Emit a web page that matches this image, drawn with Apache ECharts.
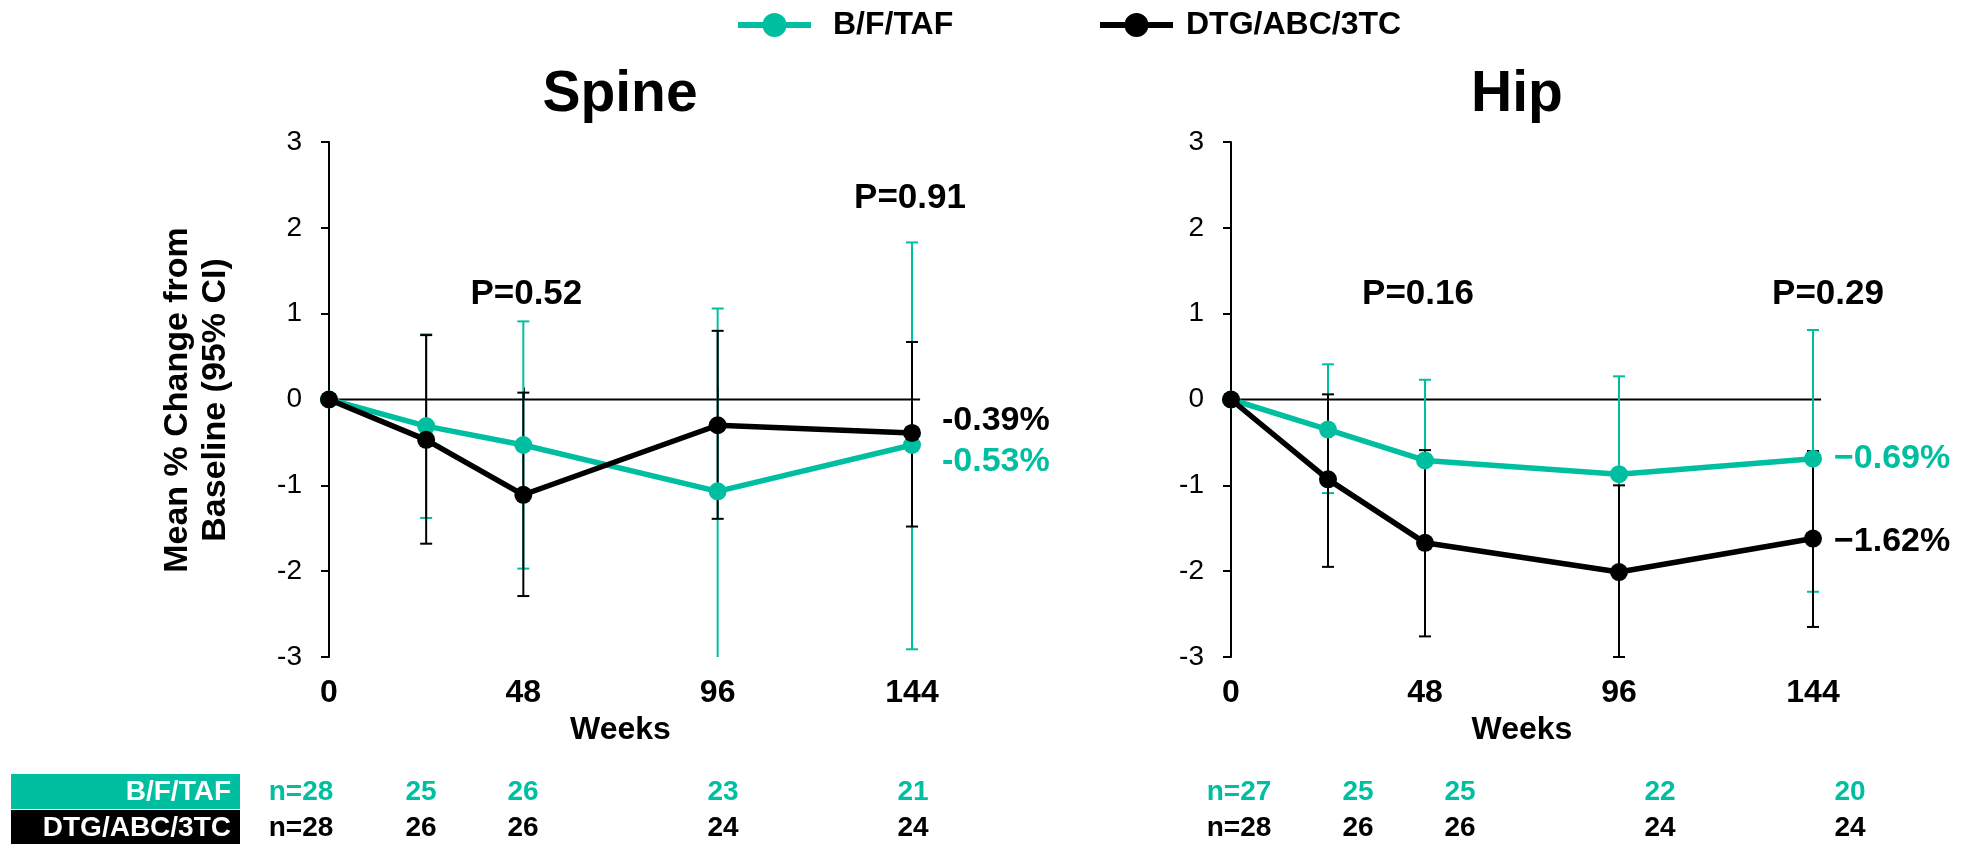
<!DOCTYPE html>
<html>
<head>
<meta charset="utf-8">
<script src="https://cdn.jsdelivr.net/npm/echarts@6/dist/echarts.min.js"></script>
<style>
  html, body { margin: 0; padding: 0; background: #fff; }
  #chart { width: 1967px; height: 844px; }
</style>
</head>
<body>
<div id="chart"></div>
<script>
// ---- data ---------------------------------------------------------------
const weeks = [0, 24, 48, 96, 144];
const weekTicks = [0, 48, 96, 144];
const yTicks = [-3, -2, -1, 0, 1, 2, 3];
const groups = ['B/F/TAF', 'DTG/ABC/3TC'];
const panelTitles = ['Spine', 'Hip'];

// Spine BMD: mean % change from baseline with 95% CI
const spineBFTAF     = [0, -0.31, -0.53, -1.07, -0.53];
const spineBFTAFLow  = [0, -1.38, -1.97, -3.20, -2.91];
const spineBFTAFHigh = [0,  0.76,  0.91,  1.06,  1.83];
const spineDTG       = [0, -0.47, -1.11, -0.30, -0.39];
const spineDTGLow    = [0, -1.68, -2.29, -1.39, -1.48];
const spineDTGHigh   = [0,  0.75,  0.08,  0.80,  0.67];

// Hip BMD: mean % change from baseline with 95% CI
const hipBFTAF     = [0, -0.35, -0.71, -0.87, -0.69];
const hipBFTAFLow  = [0, -1.09, -1.65, -2.01, -2.24];
const hipBFTAFHigh = [0,  0.41,  0.23,  0.27,  0.81];
const hipDTG       = [0, -0.93, -1.67, -2.01, -1.62];
const hipDTGLow    = [0, -1.95, -2.76, -3.00, -2.65];
const hipDTGHigh   = [0,  0.06, -0.59, -1.00, -0.60];

// P-values for the between-group comparisons
const spinePValues = ['P=0.52', 'P=0.91'];
const hipPValues   = ['P=0.16', 'P=0.29'];

// Participants with data at each visit
const spineNBFTAF = ['n=28', '25', '26', '23', '21'];
const spineNDTG   = ['n=28', '26', '26', '24', '24'];
const hipNBFTAF   = ['n=27', '25', '25', '22', '20'];
const hipNDTG     = ['n=28', '26', '26', '24', '24'];

// ---- styling / layout ---------------------------------------------------
const TEAL = '#00BFA0';
const BLACK = '#000000';
const FONT = '"Liberation Sans", Arial, Helvetica, sans-serif';
const Y_MIN = -3, Y_MAX = 3;

const panels = [
  {
    grid: { left: 329, top: 142, width: 583, height: 515 },
    mean: [spineBFTAF, spineDTG],
    low: [spineBFTAFLow, spineDTGLow],
    high: [spineBFTAFHigh, spineDTGHigh],
    fmt: v => v.toFixed(2) + '%',
    endLabel: [{ distance: 21, offset: [0, 17] }, { distance: 21, offset: [0, -12] }],
    pValues: spinePValues,
    pAnchor: [{ w: 48, y: 1.22, dx: 3 }, { w: 144, y: 2.34, dx: -2 }],
    nRows: [spineNBFTAF, spineNDTG],
    nCols: [301, 421, 523, 723, 913],
    titleX: 620
  },
  {
    grid: { left: 1231, top: 142, width: 582, height: 515 },
    mean: [hipBFTAF, hipDTG],
    low: [hipBFTAFLow, hipDTGLow],
    high: [hipBFTAFHigh, hipDTGHigh],
    fmt: v => v.toFixed(2).replace('-', '\u2212') + '%',
    endLabel: [{ distance: 12, offset: [0, 0] }, { distance: 12, offset: [0, 3] }],
    pValues: hipPValues,
    pAnchor: [{ w: 48, y: 1.22, dx: -7 }, { w: 144, y: 1.22, dx: 15 }],
    nRows: [hipNBFTAF, hipNDTG],
    nCols: [1239, 1358, 1460, 1660, 1850],
    titleX: 1517
  }
];
const colors = [TEAL, BLACK];

function lineSeries(p, g) {
  const P = panels[p];
  const vals = P.mean[g];
  return {
    type: 'line',
    name: groups[g],
    xAxisIndex: p,
    yAxisIndex: p,
    z: 4 + g,
    symbol: 'circle',
    symbolSize: 18,
    showAllSymbol: true,
    color: colors[g],
    itemStyle: { color: colors[g] },
    lineStyle: { color: colors[g], width: 5.5 },
    emphasis: { disabled: true },
    animation: false,
    data: weeks.map((w, i) => {
      const item = { value: [w, vals[i]] };
      if (i === weeks.length - 1) {
        item.label = {
          show: true,
          position: 'right',
          distance: P.endLabel[g].distance,
          offset: P.endLabel[g].offset,
          formatter: prm => P.fmt(prm.value[1]),
          color: colors[g],
          fontFamily: FONT,
          fontWeight: 'bold',
          fontSize: 34
        };
      }
      return item;
    })
  };
}

function errorBarSeries(p, g) {
  const P = panels[p];
  const color = colors[g];
  return {
    type: 'custom',
    name: groups[g],
    xAxisIndex: p,
    yAxisIndex: p,
    z: 2 + g * 0.5,
    silent: true,
    animation: false,
    data: weeks.map((w, i) => [w, P.low[g][i], P.high[g][i]]).slice(1),
    renderItem(params, api) {
      const x = api.value(0);
      const lo = api.value(1);
      const hi = api.value(2);
      const top = api.coord([x, Math.min(hi, Y_MAX)]);
      const bot = api.coord([x, Math.max(lo, Y_MIN)]);
      const half = 6;
      const st = { stroke: color, lineWidth: 2 };
      const children = [
        { type: 'line', shape: { x1: top[0], y1: top[1], x2: bot[0], y2: bot[1] }, style: st }
      ];
      if (hi <= Y_MAX) {
        children.push({ type: 'line', shape: { x1: top[0] - half, y1: top[1], x2: top[0] + half, y2: top[1] }, style: st });
      }
      if (lo >= Y_MIN) {
        children.push({ type: 'line', shape: { x1: bot[0] - half, y1: bot[1], x2: bot[0] + half, y2: bot[1] }, style: st });
      }
      return { type: 'group', children };
    }
  };
}

function zeroLineSeries(p) {
  return {
    type: 'custom',
    xAxisIndex: p,
    yAxisIndex: p,
    z: 1,
    silent: true,
    animation: false,
    data: [[0, 0]],
    renderItem(params, api) {
      const a = api.coord([0, 0]);
      const b = api.coord([146, 0]);
      return {
        type: 'line',
        shape: { x1: a[0], y1: a[1], x2: b[0], y2: b[1] },
        style: { stroke: BLACK, lineWidth: 2 }
      };
    }
  };
}

// P-value annotations, anchored to the visit they compare
function pValueSeries(p) {
  const P = panels[p];
  return {
    type: 'custom',
    xAxisIndex: p,
    yAxisIndex: p,
    z: 6,
    silent: true,
    animation: false,
    data: P.pValues.map((t, i) => [P.pAnchor[i].w, P.pAnchor[i].y, i]),
    renderItem(params, api) {
      const i = api.value(2);
      const c = api.coord([api.value(0), api.value(1)]);
      return {
        type: 'text',
        x: c[0] + P.pAnchor[i].dx,
        y: c[1],
        style: {
          text: P.pValues[i],
          align: 'center',
          verticalAlign: 'middle',
          font: 'bold 35px ' + FONT,
          fill: BLACK
        }
      };
    }
  };
}

const xAxes = panels.map((P, p) => ({
  type: 'value',
  gridIndex: p,
  min: weekTicks[0],
  max: weekTicks[weekTicks.length - 1],
  interval: 48,
  axisLine: { show: false },
  axisTick: { show: true, inside: true, length: 12, lineStyle: { color: BLACK, width: 2 } },
  splitLine: { show: false },
  axisLabel: {
    color: BLACK, fontFamily: FONT, fontWeight: 'bold', fontSize: 32, margin: 20
  },
  name: 'Weeks',
  nameLocation: 'middle',
  nameGap: 51,
  nameTextStyle: { color: BLACK, fontFamily: FONT, fontWeight: 'bold', fontSize: 32 }
}));

const yAxes = panels.map((P, p) => ({
  type: 'value',
  gridIndex: p,
  min: yTicks[0],
  max: yTicks[yTicks.length - 1],
  interval: 1,
  axisLine: { show: true, onZero: false, lineStyle: { color: BLACK, width: 2 } },
  axisTick: { show: true, inside: false, length: 8, lineStyle: { color: BLACK, width: 2 } },
  splitLine: { show: false },
  axisLabel: { color: BLACK, fontFamily: FONT, fontSize: 28, margin: 27 }
}));

const series = [];
panels.forEach((P, p) => { series.push(lineSeries(p, 0), lineSeries(p, 1)); });
panels.forEach((P, p) => {
  series.push(errorBarSeries(p, 0), errorBarSeries(p, 1), zeroLineSeries(p), pValueSeries(p));
});

// titles, y-axis title and the n-at-visit table
const graphics = [];
panels.forEach((P, p) => {
  graphics.push({
    type: 'text', x: P.titleX, y: 95, silent: true,
    style: { text: panelTitles[p], align: 'center', verticalAlign: 'middle',
             font: 'bold 57px ' + FONT, fill: BLACK }
  });
});
graphics.push({
  type: 'text', x: 197, y: 400, rotation: Math.PI / 2, silent: true,
  style: { text: 'Mean % Change from\nBaseline (95% CI)', align: 'center', verticalAlign: 'middle',
           font: 'bold 34px ' + FONT, lineHeight: 38, fill: BLACK }
});
const rowY = [792, 828];
const rowBox = [{ y: 774, h: 35 }, { y: 810, h: 34 }];
groups.forEach((gName, g) => {
  graphics.push({
    type: 'rect', silent: true,
    shape: { x: 11, y: rowBox[g].y, width: 229, height: rowBox[g].h },
    style: { fill: colors[g] }
  });
  graphics.push({
    type: 'text', x: 231, y: rowY[g], silent: true,
    style: { text: gName, align: 'right', verticalAlign: 'middle',
             font: 'bold 28px ' + FONT, fill: '#ffffff' }
  });
});
panels.forEach(P => {
  P.nRows.forEach((row, g) => {
    row.forEach((t, i) => {
      graphics.push({
        type: 'text', x: P.nCols[i], y: rowY[g], silent: true,
        style: { text: t, align: 'center', verticalAlign: 'middle',
                 font: 'bold 28px ' + FONT, fill: colors[g] }
      });
    });
  });
});

const legendBase = {
  orient: 'horizontal',
  top: 4,
  itemWidth: 73,
  itemHeight: 30,
  selectedMode: false,
  lineStyle: { width: 6 },
  textStyle: { color: BLACK, fontFamily: FONT, fontWeight: 'bold', fontSize: 32 }
};

const chart = echarts.init(document.getElementById('chart'), null, { renderer: 'canvas' });
chart.setOption({
  backgroundColor: '#ffffff',
  animation: false,
  legend: [
    Object.assign({}, legendBase, {
      data: [groups[0]], left: 730,
      textStyle: Object.assign({}, legendBase.textStyle, { padding: [0, 0, 0, 17] })
    }),
    Object.assign({}, legendBase, {
      data: [groups[1]], left: 1092,
      textStyle: Object.assign({}, legendBase.textStyle, { padding: [0, 0, 0, 8] })
    })
  ],
  grid: panels.map(P => Object.assign({ containLabel: false }, P.grid)),
  xAxis: xAxes,
  yAxis: yAxes,
  series: series,
  graphic: graphics
});
</script>
</body>
</html>
